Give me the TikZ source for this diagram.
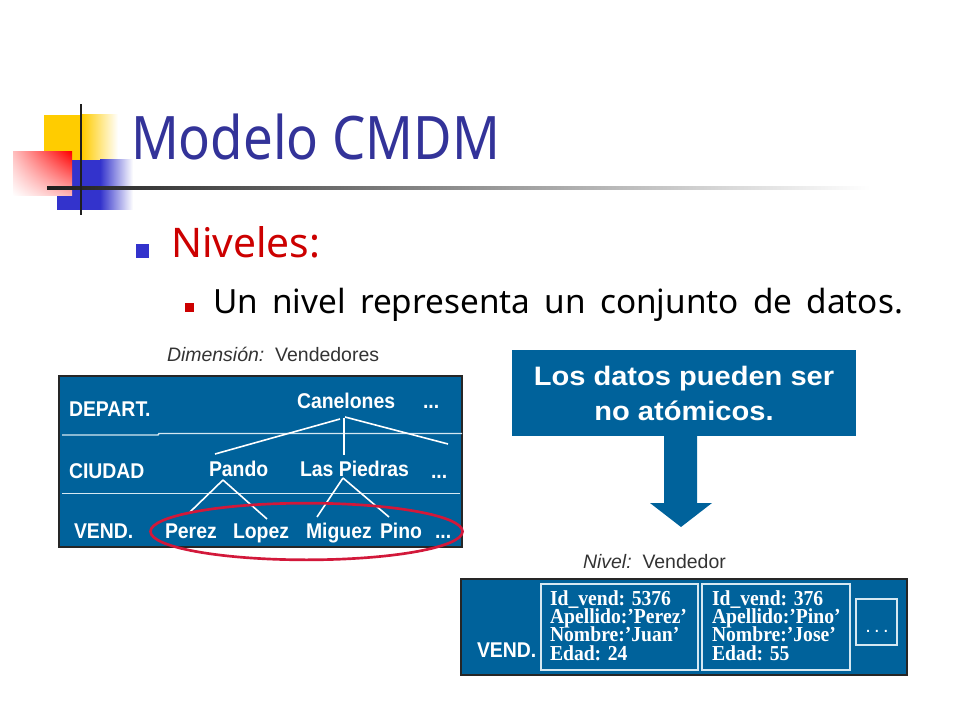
\documentclass[tikz,border=0pt]{standalone}
\usepackage{fontspec}
\usetikzlibrary{shadings,shapes.geometric}
\setmainfont{Liberation Sans}
\newfontfamily\titlefont[FakeStretch=0.88]{Noto Sans}
\newfontfamily\headfont{Noto Sans}
\newfontfamily\panelfont[FakeStretch=0.91]{Liberation Sans Bold}
\newfontfamily\wideboldfont[FakeStretch=1.09]{Liberation Sans Bold}
\newfontfamily\recfont[FakeStretch=0.92]{Liberation Serif Bold}
\definecolor{panelblue}{HTML}{00629B}
\definecolor{lineblue}{HTML}{D5E8F2}
\definecolor{titleblue}{HTML}{333399}
\definecolor{headred}{HTML}{CC0000}
\definecolor{ringred}{HTML}{D2183A}
\definecolor{logoyellow}{HTML}{FFCC00}
\definecolor{logoblue}{HTML}{3333CC}
\definecolor{captiongray}{HTML}{333333}
\tikzset{
  every node/.style={inner sep=0pt,outer sep=0pt,anchor=base west},
  paneltext/.style={text=white,font=\fontsize{16}{18}\selectfont\panelfont},
  rectext/.style={text=white,font=\fontsize{16}{18}\selectfont\recfont},
  captiontext/.style={text=captiongray,font=\fontsize{14.6}{16}\selectfont},
  panel/.style={fill=panelblue,draw=black!85,line width=1.1pt},
  recbox/.style={draw=lineblue,line width=1.1pt},
  sepline/.style={draw=lineblue,line width=1.1pt},
  treeline/.style={draw=white,line width=1.2pt},
}
\begin{document}
\begin{tikzpicture}[x=0.75pt,y=-0.75pt]
\useasboundingbox (0,0) rectangle (960,720);
% logo
\fill[logoyellow] (44,115) rectangle (82,160);
\shade[left color=logoyellow,right color=white] (82,115) rectangle (118,160);
\fill[logoblue] (57,160) rectangle (100,210);
\shade[left color=logoblue,right color=white] (100,160) rectangle (133,210);
\shade[shading=bilinear interpolation,upper right=red,upper left=red!25!white,lower right=red!28!white,lower left=white] (13,196) rectangle (72,152);
\shade[left color=black!88,right color=white] (47,186.7) rectangle (870,189.3);
\fill[black!88] (79.7,104) rectangle (82.3,215);
% headings
\node[text=titleblue,font=\fontsize{45}{50}\selectfont\titlefont] (title) at (131,160) {Modelo CMDM};
\fill[logoblue] (136,244) rectangle (149,258);
\node[text=headred,font=\fontsize{30.6}{36}\selectfont\headfont] (niveles) at (171,258) {Niveles:};
\fill[headred] (185,303) rectangle (194,312);
\node[text=black,font=\fontsize{25}{28}\selectfont\headfont] (unnivel) at (213,314) {\makebox[517.5pt][s]{Un nivel representa un conjunto de datos.}};
% left panel
\node[captiontext] (dimcap) at (167,361) {\textit{Dimensión:}\ \ Vendedores};
\draw[panel] (59,376) rectangle (462,547);
\draw[sepline] (62,435) -- (158,435) -- (159,433.5) -- (462,433.5);
\draw[sepline] (62,493.5) -- (460,493.5);
\node[paneltext] (depart) at (69,416) {DEPART.};
\node[paneltext] (canelones) at (297,408) {Canelones};
\node[paneltext] (dots1) at (423,408) {...};
\node[paneltext] (ciudad) at (69,478) {CIUDAD};
\node[paneltext] (pando) at (209,476) {Pando};
\node[paneltext] (piedras) at (300,476) {Las Piedras};
\node[paneltext] (dots2) at (431,478) {...};
\node[paneltext] (vend) at (74,538) {VEND.};
\node[paneltext] (perez) at (165,538) {Perez};
\node[paneltext] (lopez) at (233,538) {Lopez};
\node[paneltext] (miguez) at (306,538) {Miguez};
\node[paneltext] (pino) at (380,538) {Pino};
\node[paneltext] (dots3) at (435,538) {...};
\coordinate (cL) at (340,419);
\coordinate (cR) at (345,417);
\coordinate (cM) at (344,418);
\coordinate (tPando) at (215,454);
\coordinate (tPiedras) at (344,455);
\coordinate (tMore) at (448,444);
\coordinate (bPando) at (223,480);
\coordinate (bPiedras) at (343,478);
\coordinate (tPerez) at (190,512);
\coordinate (tLopez) at (267,519);
\coordinate (tMiguez) at (317,517);
\coordinate (tPino) at (389,517);
\draw[treeline] (cL) -- (tPando);
\draw[treeline] (cM) -- (tPiedras);
\draw[treeline] (cR) -- (tMore);
\draw[treeline] (bPando) -- (tPerez);
\draw[treeline] (bPando) -- (tLopez);
\draw[treeline] (bPiedras) -- (tMiguez);
\draw[treeline] (bPiedras) -- (tPino);
\node[draw=ringred,line width=2pt,ellipse,anchor=center,minimum width=234pt,minimum height=42.5pt] (ring) at (306.5,531.5) {};
% callout
\fill[panelblue] (512,350) rectangle (856,436);
\fill[panelblue] (664,436) -- (664,503) -- (650,503) -- (681,527) -- (712,503) -- (697,503) -- (697,436) -- cycle;
\node[text=white,font=\fontsize{20}{22}\selectfont\wideboldfont,anchor=base] (datos1) at (684,385) {Los datos pueden ser};
\node[text=white,font=\fontsize{20}{22}\selectfont\wideboldfont,anchor=base] (datos2) at (684,420) {no atómicos.};
% bottom panel
\node[captiontext] (nivcap) at (583,568) {\textit{Nivel:}\ \ Vendedor};
\draw[panel] (461,579) rectangle (907,675);
\draw[recbox] (541,584) rectangle (698,670);
\draw[recbox] (702,584) rectangle (850,670);
\draw[recbox] (856,599) rectangle (897,645);
\node[paneltext] (vend2) at (477,657) {VEND.};
\node[rectext] (a1) at (550,605) {Id\_vend: 5376};
\node[rectext] (a2) at (550,623) {Apellido:’Perez’};
\node[rectext] (a3) at (550,641) {Nombre:’Juan’};
\node[rectext] (a4) at (550,660) {Edad: 24};
\node[rectext] (b1) at (712,605) {Id\_vend: 376};
\node[rectext] (b2) at (712,623) {Apellido:’Pino’};
\node[rectext] (b3) at (712,641) {Nombre:’Jose’};
\node[rectext] (b4) at (712,660) {Edad: 55};
\node[text=white,font=\fontsize{15}{16}\selectfont,anchor=base] (dots4) at (877,632) {.\,.\,.};
\end{tikzpicture}
\end{document}
